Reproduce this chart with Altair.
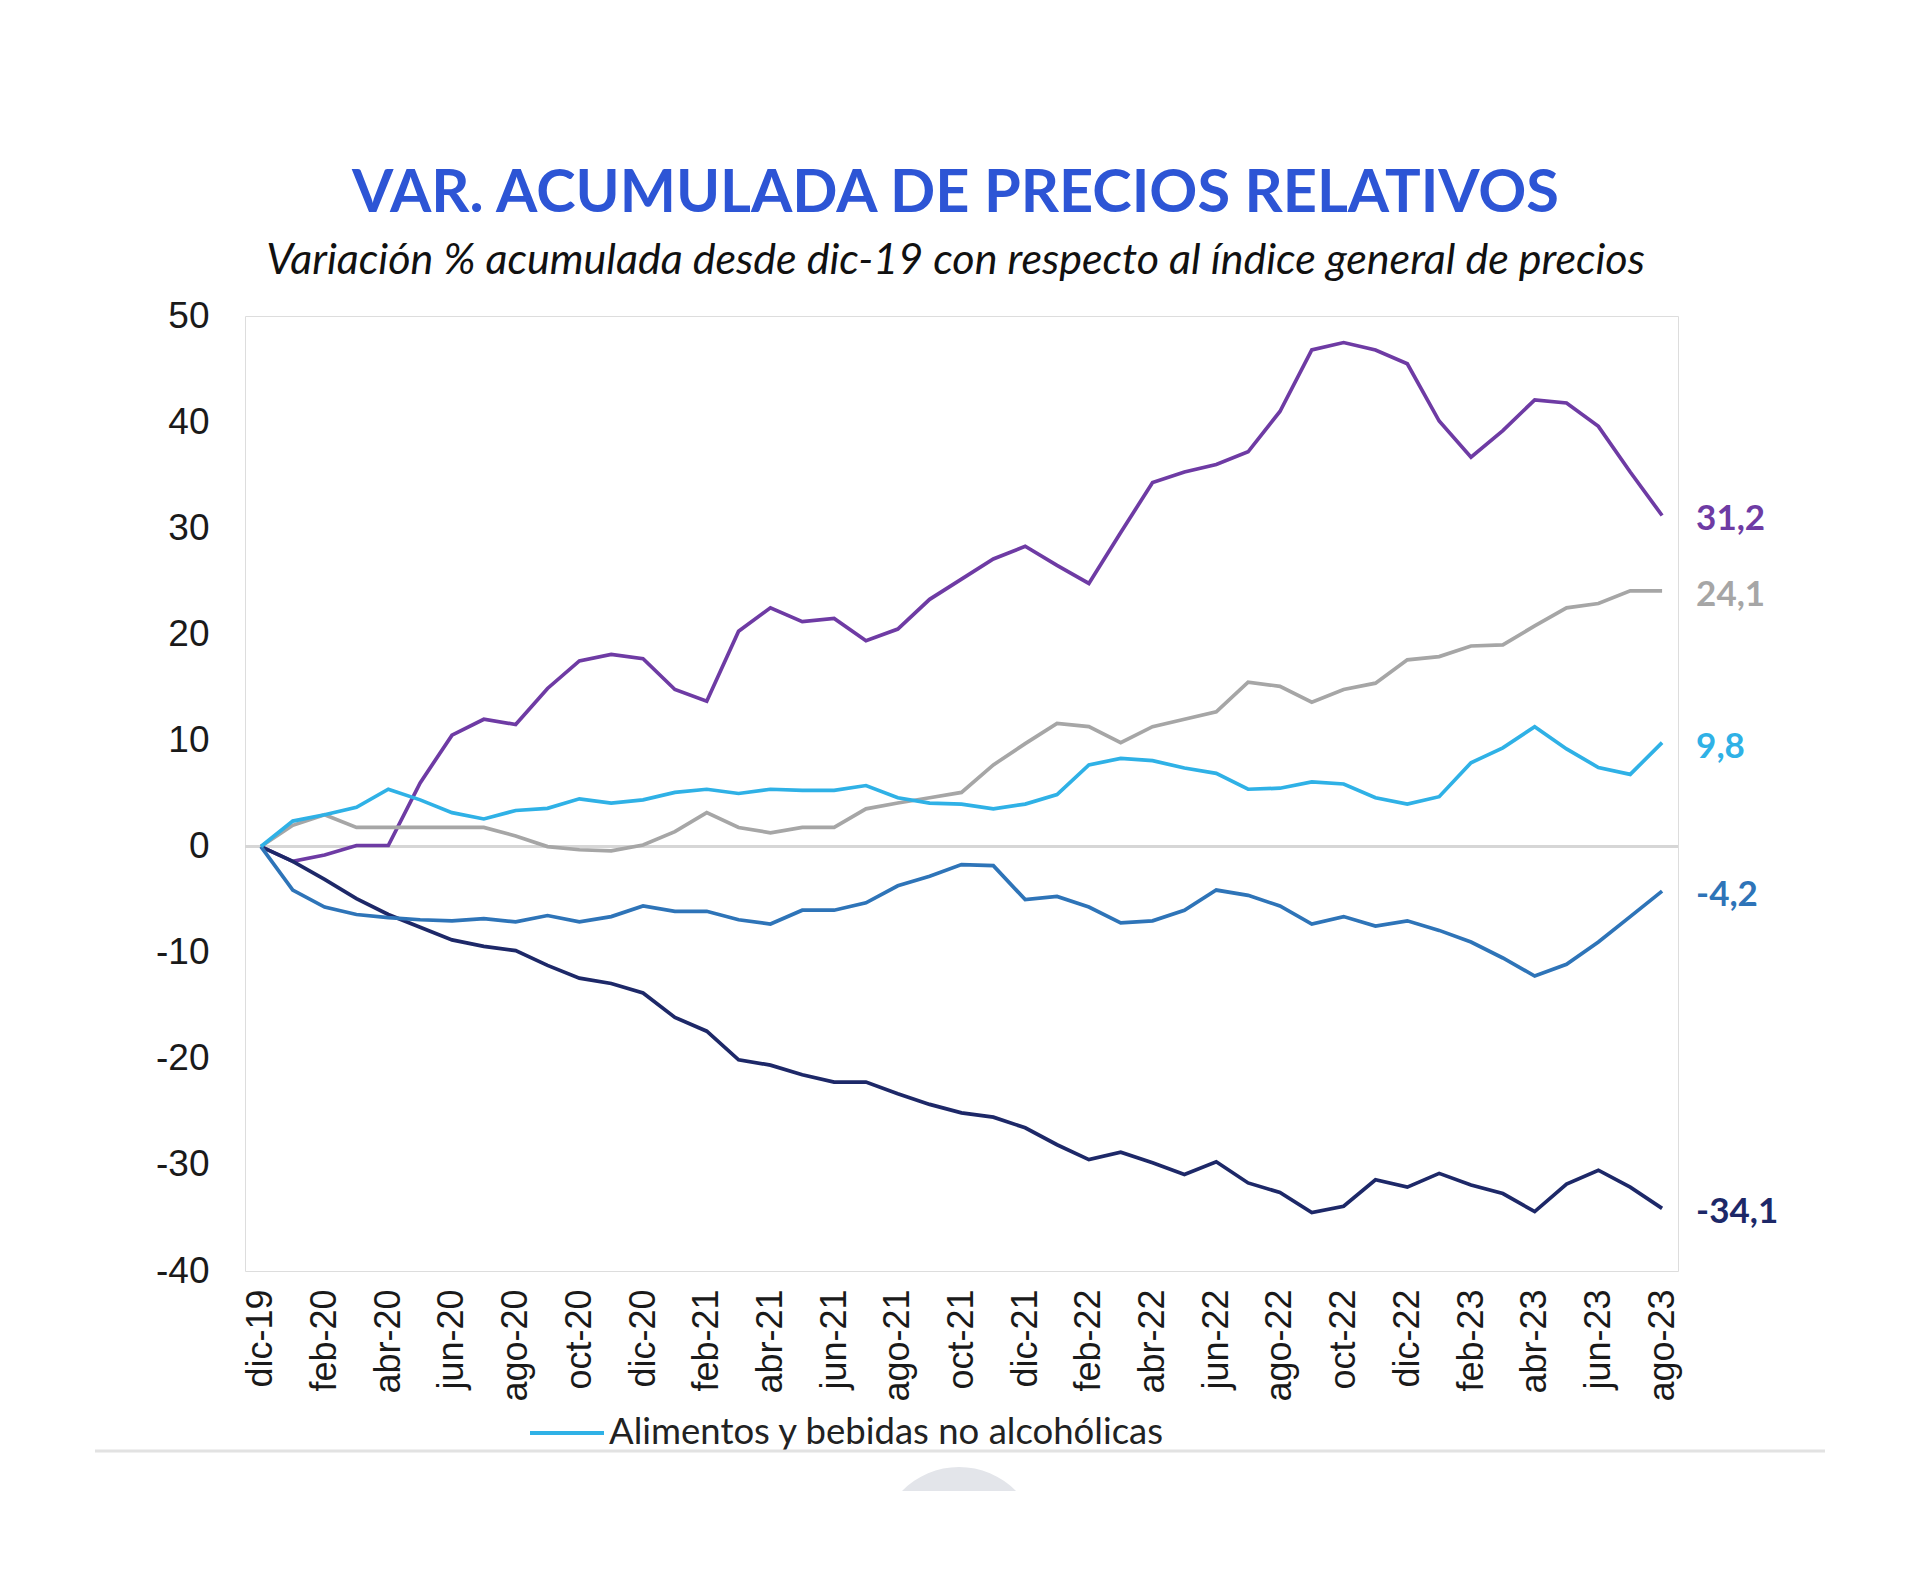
import altair as alt
import pandas as pd

meses = [
    "dic-19",
    "ene-20", "feb-20", "mar-20", "abr-20", "may-20", "jun-20",
    "jul-20", "ago-20", "sep-20", "oct-20", "nov-20", "dic-20",
    "ene-21", "feb-21", "mar-21", "abr-21", "may-21", "jun-21",
    "jul-21", "ago-21", "sep-21", "oct-21", "nov-21", "dic-21",
    "ene-22", "feb-22", "mar-22", "abr-22", "may-22", "jun-22",
    "jul-22", "ago-22", "sep-22", "oct-22", "nov-22", "dic-22",
    "ene-23", "feb-23", "mar-23", "abr-23", "may-23", "jun-23",
    "jul-23", "ago-23",
]

etiquetas_x = [
    "dic-19", "feb-20", "abr-20", "jun-20", "ago-20", "oct-20", "dic-20",
    "feb-21", "abr-21", "jun-21", "ago-21", "oct-21", "dic-21",
    "feb-22", "abr-22", "jun-22", "ago-22", "oct-22", "dic-22",
    "feb-23", "abr-23", "jun-23", "ago-23",
]

serie_purpura = [
    0, -1.4, -0.8, 0.1, 0.1, 6.0, 10.5, 12.0, 11.5, 14.9, 17.5, 18.1, 17.7,
    14.8, 13.7, 20.3, 22.5, 21.2, 21.5, 19.4, 20.5, 23.3, 25.2, 27.1, 28.3,
    26.5, 24.8, 29.6, 34.3, 35.3, 36.0, 37.2, 41.0, 46.8, 47.5, 46.8, 45.5,
    40.1, 36.7, 39.2, 42.1, 41.8, 39.6, 35.3, 31.2,
]
serie_gris = [
    0, 2.0, 3.0, 1.8, 1.8, 1.8, 1.8, 1.8, 1.0, 0.0, -0.3, -0.4, 0.15,
    1.4, 3.2, 1.8, 1.3, 1.8, 1.8, 3.55, 4.1, 4.6, 5.1, 7.7, 9.7,
    11.6, 11.3, 9.8, 11.3, 12.0, 12.7, 15.5, 15.1, 13.6, 14.8, 15.4, 17.6,
    17.9, 18.9, 19.0, 20.8, 22.5, 22.9, 24.1, 24.1,
]
serie_alimentos = [
    0, 2.4, 3.0, 3.7, 5.4, 4.4, 3.2, 2.6, 3.4, 3.6, 4.5, 4.1, 4.4,
    5.1, 5.4, 5.0, 5.4, 5.3, 5.3, 5.75, 4.6, 4.1, 4.0, 3.55, 4.0,
    4.9, 7.7, 8.3, 8.1, 7.4, 6.9, 5.4, 5.5, 6.1, 5.9, 4.6, 4.0,
    4.7, 7.9, 9.3, 11.3, 9.2, 7.45, 6.8, 9.8,
]
serie_azul = [
    0, -4.1, -5.7, -6.4, -6.7, -6.9, -7.0, -6.8, -7.1, -6.5, -7.1, -6.6, -5.6,
    -6.1, -6.1, -6.9, -7.3, -6.0, -6.0, -5.3, -3.7, -2.8, -1.7, -1.8, -5.0,
    -4.7, -5.7, -7.2, -7.0, -6.0, -4.1, -4.6, -5.6, -7.3, -6.6, -7.5, -7.0,
    -7.9, -9.0, -10.5, -12.2, -11.1, -9.0, -6.6, -4.2,
]
serie_marino = [
    0, -1.4, -3.1, -4.9, -6.4, -7.6, -8.8, -9.4, -9.8, -11.2, -12.4, -12.9, -13.8,
    -16.1, -17.4, -20.1, -20.6, -21.5, -22.2, -22.2, -23.3, -24.3, -25.1, -25.5, -26.5,
    -28.1, -29.5, -28.8, -29.8, -30.9, -29.7, -31.7, -32.6, -34.5, -33.9, -31.4, -32.1,
    -30.8, -31.9, -32.7, -34.4, -31.8, -30.5, -32.1, -34.1,
]

nombres = ["Serie púrpura", "Serie gris", "Serie marino", "Serie azul",
           "Alimentos y bebidas no alcohólicas"]
valores = [serie_purpura, serie_gris, serie_marino, serie_azul, serie_alimentos]
colores = ["#6e3ba4", "#a6a6a6", "#1d2868", "#2e74b8", "#2fb1e6"]
etiquetas_finales = ["31,2", "24,1", "-34,1", "-4,2", "9,8"]

filas = []
for nombre, serie in zip(nombres, valores):
    for i, (m, v) in enumerate(zip(meses, serie)):
        filas.append({"mes": m, "orden": i, "serie": nombre, "valor": v})
df = pd.DataFrame(filas)

df_fin = pd.DataFrame({
    "mes": [meses[-1]] * len(nombres),
    "serie": nombres,
    "valor": [s[-1] for s in valores],
    "texto": etiquetas_finales,
})

x_enc = alt.X(
    "mes:O",
    sort=meses,
    scale=alt.Scale(type="point", padding=0.5, domain=meses),
    axis=alt.Axis(
        values=etiquetas_x, labelAngle=-90, title=None, domain=False,
        ticks=False, tickSize=0, labelPadding=18, labelFont="Liberation Sans",
        labelFontSize=36, labelColor="#1a1a1a",
    ),
)
y_enc = alt.Y(
    "valor:Q",
    scale=alt.Scale(domain=[-40, 50], nice=False, zero=False),
    axis=alt.Axis(
        values=list(range(-40, 51, 10)), title=None, grid=False, domain=False,
        ticks=False, tickSize=0, labelPadding=36, labelFont="Liberation Sans",
        labelFontSize=37, labelColor="#1a1a1a",
        labelExpr="'' + datum.value",
    ),
)
color_enc = alt.Color(
    "serie:N", scale=alt.Scale(domain=nombres, range=colores), legend=None
)

cero = alt.Chart(pd.DataFrame({"valor": [0]})).mark_rule(
    color="#d6d6d6", strokeWidth=3
).encode(y=alt.Y("valor:Q"))

lineas = alt.Chart(df).mark_line(strokeWidth=3.7, strokeJoin="miter").encode(
    x=x_enc, y=y_enc, color=color_enc, order=alt.Order("orden:Q")
)

finales = alt.Chart(df_fin).mark_text(
    align="left", baseline="middle", dx=34, dy=4, font="Lato",
    fontSize=35, fontWeight="bold",
).encode(x=alt.X("mes:O", sort=meses), y=alt.Y("valor:Q"), text="texto:N",
         color=color_enc)

leyenda_linea = alt.Chart(pd.DataFrame({"k": [0]})).mark_rule(
    color="#2fb1e6", strokeWidth=4
).encode(x=alt.value(285), x2=alt.value(359), y=alt.value(1117))

leyenda_texto = alt.Chart(pd.DataFrame({"t": ["Alimentos y bebidas no alcohólicas"]})).mark_text(
    align="left", baseline="middle", font="Lato", fontSize=36.5, color="#222222",
).encode(x=alt.value(364), y=alt.value(1117), text="t:N")

separador = alt.Chart(pd.DataFrame({"k": [0]})).mark_rule(
    color="#e2e2e2", strokeWidth=3
).encode(x=alt.value(-150), x2=alt.value(1580), y=alt.value(1135))

mancha = alt.Chart(pd.DataFrame({"k": [0]})).mark_point(
    shape="M -1 0.21 A 1.4 1.4 0 0 1 1 0.21 Z", filled=True,
    color="#e3e5ea", opacity=1, size=12996, strokeWidth=0,
).encode(x=alt.value(714), y=alt.value(1163))

chart = alt.layer(
    cero, lineas, finales, leyenda_linea, leyenda_texto, separador, mancha
).properties(
    width=1433,
    height=955,
    title=alt.TitleParams(
        text="VAR. ACUMULADA DE PRECIOS RELATIVOS",
        subtitle="Variación % acumulada desde dic-19 con respecto al índice general de precios",
        font="Lato", fontSize=59.5, fontWeight="bold", color="#2d55d5",
        subtitleFont="Lato", subtitleFontSize=43, subtitleFontStyle="italic",
        subtitleColor="#111111", anchor="middle", offset=13,
        subtitlePadding=16, dx=-6,
    ),
    autosize=alt.AutoSizeParams(type="none"),
    padding={"left": 237, "top": 308, "right": 230, "bottom": 280},
).configure_view(
    stroke="#bdbdbd", strokeWidth=2.5
).configure(background="white")

chart.save("out.html", embed_options={"renderer": "svg", "actions": False})
